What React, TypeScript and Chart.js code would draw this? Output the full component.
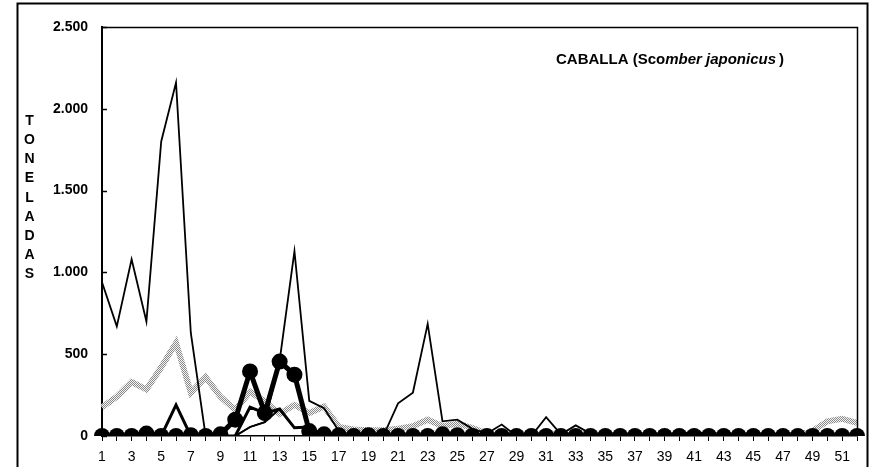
import React, { useEffect, useRef } from 'react';
import { Chart, registerables } from 'chart.js';

Chart.register(...registerables);

const weeks: string[] = [
  '1','2','3','4','5','6','7','8','9','10','11','12','13','14','15','16','17','18','19','20',
  '21','22','23','24','25','26','27','28','29','30','31','32','33','34','35','36','37','38','39','40',
  '41','42','43','44','45','46','47','48','49','50','51','52',
];

// thin black line
const seriesA: number[] = [
  940, 670, 1080, 700, 1800, 2160, 630, 0, 0, 0, 55, 85, 460, 1130, 215, 170, 30, 0, 0, 0,
  200, 265, 685, 90, 100, 45, 15, 70, 0, 0, 115, 10, 65, 15, 0, 0, 0, 0, 0, 0,
  40, 0, 0, 0, 0, 0, 0, 0, 0, 0, 0, 0,
];

// grey patterned line
const seriesB: number[] = [
  175, 240, 330, 285, 420, 570, 265, 360, 240, 160, 270, 210, 135, 190, 140, 180, 55, 40, 35, 35,
  45, 60, 100, 60, 75, 50, 15, 10, 10, 10, 10, 10, 10, 10, 5, 5, 5, 5, 5, 5,
  5, 5, 5, 5, 5, 5, 5, 5, 30, 90, 105, 80,
];

// medium black line
const seriesC: number[] = [
  0, 0, 0, 0, 0, 190, 0, 0, 0, 0, 177, 140, 165, 50, 55, 0, 0, 0, 0, 0,
  0, 0, 0, 0, 0, 0, 0, 0, 0, 0, 0, 0, 0, 0, 0, 0, 0, 0, 0, 0,
  0, 0, 0, 0, 0, 0, 0, 0, 0, 0, 0, 0,
];

// short thin black line
const seriesE: (number | null)[] = [
  null, null, null, null, null, null, null, null, null, 0, 55, 85, 165, null, null, null, null, null, null, null,
  null, null, null, null, null, null, null, null, null, null, null, null, null, null, null, null, null, null, null, null,
  null, null, null, null, null, null, null, null, null, null, null, null,
];

// thick black line with round markers
const seriesD: number[] = [
  0, 0, 0, 15, 0, 0, 5, 0, 10, 100, 395, 140, 455, 375, 30, 10, 5, 0, 5, 0,
  0, 0, 0, 10, 5, 0, 0, 0, 0, 0, 0, 0, 0, 0, 0, 0, 0, 0, 0, 0,
  0, 0, 0, 0, 0, 0, 0, 0, 0, 0, 0, 0,
];

const yTickValues: number[] = [0, 500, 1000, 1500, 2000, 2500];
const yTickLabels: string[] = ['0', '500', '1.000', '1.500', '2.000', '2.500'];
const yAxisTitle: string[] = ['T', 'O', 'N', 'E', 'L', 'A', 'D', 'A', 'S'];
const titleParts = { plain: 'CABALLA (Sco', italic: 'mber japonicus', close: ')' };

const FONT = 'Arial, "Liberation Sans", sans-serif';

function makePattern(): CanvasPattern | string {
  const c = document.createElement('canvas');
  c.width = 2;
  c.height = 2;
  const p = c.getContext('2d');
  if (!p) return '#aaa';
  p.fillStyle = '#f4f4f4';
  p.fillRect(0, 0, 2, 2);
  p.fillStyle = '#8a8a8a';
  p.fillRect(0, 0, 1, 1);
  p.fillRect(1, 1, 1, 1);
  const pat = p.createPattern(c, 'repeat');
  return pat || '#aaa';
}

const decorPlugin = {
  id: 'decor',
  afterDraw(chart: any) {
    const { ctx, chartArea } = chart;
    const y = chart.scales.y;
    ctx.save();
    // outer frame
    ctx.strokeStyle = '#000';
    ctx.lineWidth = 2;
    ctx.strokeRect(17.5, 3.5, 850, 480);
    // plot frame top/right
    ctx.lineWidth = 1.5;
    ctx.beginPath();
    ctx.moveTo(chartArea.left, chartArea.top + 0.5);
    ctx.lineTo(chartArea.right + 0.5, chartArea.top + 0.5);
    ctx.lineTo(chartArea.right + 0.5, chartArea.bottom);
    ctx.stroke();
    // inward y ticks
    ctx.lineWidth = 1.5;
    yTickValues.forEach((v) => {
      const py = Math.round(y.getPixelForValue(v)) + 0.5;
      ctx.beginPath();
      ctx.moveTo(chartArea.left, py);
      ctx.lineTo(chartArea.left + 5, py);
      ctx.stroke();
    });
    // y axis title (stacked letters)
    ctx.fillStyle = '#000';
    ctx.font = `bold 14px ${FONT}`;
    ctx.textAlign = 'center';
    ctx.textBaseline = 'middle';
    yAxisTitle.forEach((ch, i) => {
      ctx.fillText(ch, 29.5, 121 + i * 19.2);
    });
    // chart title
    ctx.textAlign = 'left';
    ctx.textBaseline = 'alphabetic';
    let x = 556;
    const by = 64;
    ctx.font = `bold 15px ${FONT}`;
    ctx.fillText(titleParts.plain, x, by);
    x += ctx.measureText(titleParts.plain).width;
    ctx.font = `italic bold 15px ${FONT}`;
    ctx.fillText(titleParts.italic, x, by);
    x += ctx.measureText(titleParts.italic).width + 3;
    ctx.font = `bold 15px ${FONT}`;
    ctx.fillText(titleParts.close, x, by);
    ctx.restore();
  },
};

export default function App() {
  const ref = useRef<HTMLCanvasElement | null>(null);

  useEffect(() => {
    if (!ref.current) return;
    const pattern = makePattern();
    const chart = new Chart(ref.current, {
      type: 'line',
      data: {
        labels: weeks,
        datasets: [
          {
            label: 'D',
            data: seriesD,
            borderColor: '#000',
            backgroundColor: '#000',
            borderWidth: 5,
            pointRadius: 8,
            pointBackgroundColor: '#000',
            pointBorderColor: '#000',
            pointBorderWidth: 0,
            tension: 0,
            order: 0,
          },
          {
            label: 'A',
            data: seriesA,
            borderColor: '#000',
            borderWidth: 1.8,
            pointRadius: 0,
            tension: 0,
            order: 1,
          },
          {
            label: 'C',
            data: seriesC,
            borderColor: '#000',
            borderWidth: 3,
            pointRadius: 0,
            tension: 0,
            order: 2,
          },
          {
            label: 'E',
            data: seriesE,
            borderColor: '#000',
            borderWidth: 1.8,
            pointRadius: 0,
            tension: 0,
            spanGaps: false,
            order: 3,
          },
          {
            label: 'B',
            data: seriesB,
            borderColor: pattern as any,
            borderWidth: 6,
            pointRadius: 0,
            tension: 0,
            order: 4,
          },
        ],
      },
      options: {
        responsive: false,
        animation: false,
        events: [],
        layout: { padding: { left: 0, top: 27, right: 18, bottom: 0 } },
        plugins: {
          legend: { display: false },
          tooltip: { enabled: false },
          title: { display: false },
        },
        scales: {
          x: {
            type: 'category',
            offset: false,
            border: { display: true, color: '#000', width: 1.5 },
            grid: {
              drawOnChartArea: false,
              drawTicks: true,
              tickLength: 5,
              color: '#000',
              lineWidth: 1,
            },
            ticks: {
              autoSkip: false,
              maxRotation: 0,
              minRotation: 0,
              color: '#000',
              padding: 8,
              font: { family: FONT, size: 14 },
              callback: (_v: any, i: number) => (i % 2 === 0 ? weeks[i] : ''),
            },
            afterFit: (s: any) => {
              s.height = 31;
            },
          },
          y: {
            min: 0,
            max: 2500,
            border: { display: true, color: '#000', width: 2 },
            grid: { drawOnChartArea: false, drawTicks: false },
            ticks: {
              stepSize: 500,
              color: '#000',
              padding: 14,
              font: { family: FONT, size: 14, weight: 'bold' },
              callback: (v: any) => {
                const idx = yTickValues.indexOf(Number(v));
                return idx >= 0 ? yTickLabels[idx] : '';
              },
            },
            afterFit: (s: any) => {
              s.width = 102;
            },
          },
        },
      },
      plugins: [decorPlugin],
    });
    return () => chart.destroy();
  }, []);

  return (
    <div style={{ position: 'fixed', left: 0, top: 0, width: 875, height: 467, background: '#fff' }}>
      <canvas ref={ref} width={875} height={467} style={{ display: 'block' }} />
    </div>
  );
}
